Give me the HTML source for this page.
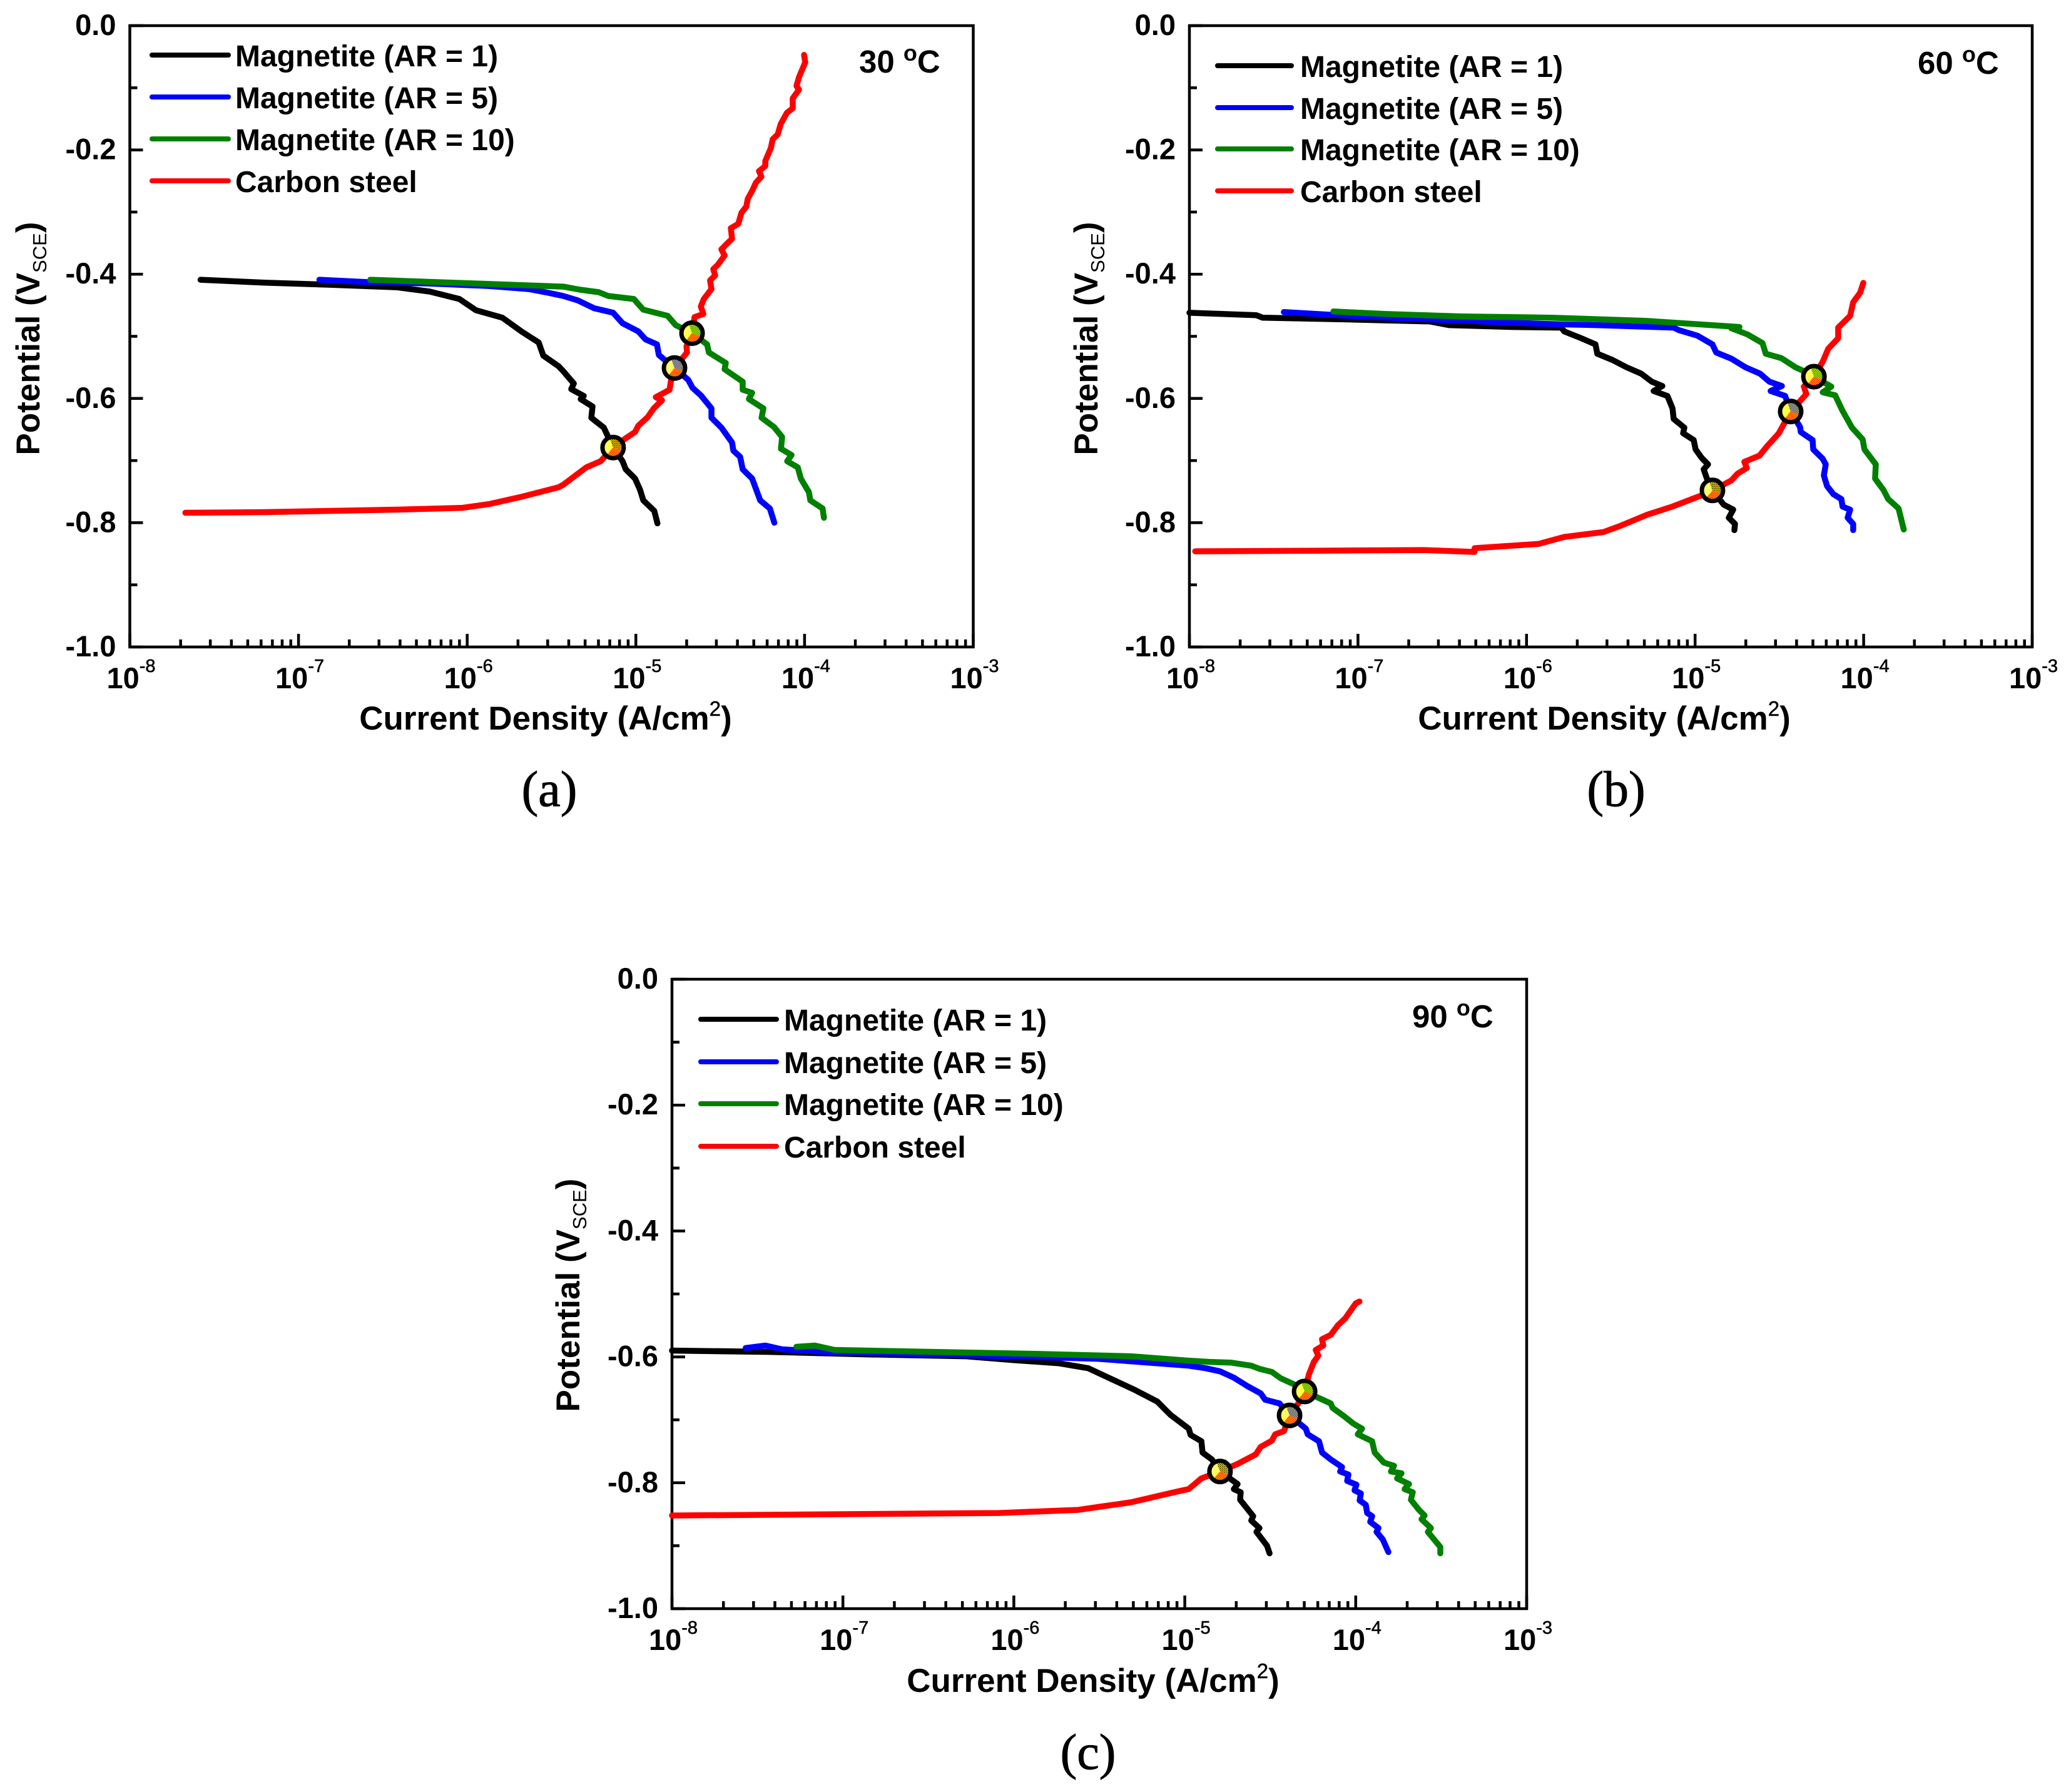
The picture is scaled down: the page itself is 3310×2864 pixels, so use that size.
<!DOCTYPE html>
<html lang="en">
<head>
<meta charset="utf-8">
<title>Polarization curves of magnetite and carbon steel</title>
<style>
html,body{margin:0;padding:0;background:#fff;}
svg{display:block;}
text{font-family:"Liberation Sans",Arial,sans-serif;font-weight:bold;fill:#000;}
.cap{font-family:"Liberation Serif",serif;font-weight:normal;stroke:#000;stroke-width:1;}
</style>
</head>
<body>
<svg id="figure" xmlns="http://www.w3.org/2000/svg" width="3310" height="2864" viewBox="0 0 3310 2864">
<defs>
<pattern id="dither-yellow" width="3" height="3" patternUnits="userSpaceOnUse"><rect width="3" height="3" fill="#ffff40"/><rect width="1.5" height="1.5" fill="#fff79a"/></pattern>
<pattern id="dither-red" width="3" height="3" patternUnits="userSpaceOnUse"><rect width="3" height="3" fill="#ffd000"/><rect width="1.5" height="1.5" fill="#f00"/><rect x="1.5" y="1.5" width="1.5" height="1.5" fill="#f00"/></pattern>
<pattern id="dither-black" width="3" height="3" patternUnits="userSpaceOnUse"><rect width="3" height="3" fill="#ff0"/><rect width="1.5" height="1.5" fill="#000"/><rect x="1.5" y="1.5" width="1.5" height="1.5" fill="#d03000"/></pattern>
<pattern id="dither-blue" width="3" height="3" patternUnits="userSpaceOnUse"><rect width="3" height="3" fill="#ff0"/><rect width="1.5" height="1.5" fill="#00f"/><rect x="1.5" y="1.5" width="1.5" height="1.5" fill="#00f"/></pattern>
<pattern id="dither-green" width="3" height="3" patternUnits="userSpaceOnUse"><rect width="3" height="3" fill="#ff0"/><rect width="1.5" height="1.5" fill="#008000"/><rect x="1.5" y="1.5" width="1.5" height="1.5" fill="#008000"/></pattern>
</defs>
</svg>
<script>
// ---- axis tick data ----
const xTickExponents = [-8, -7, -6, -5, -4, -3];
const xMinorMultipliers = [2, 3, 4, 5, 6, 7, 8, 9];
const yMajorTicks = [0, -0.2, -0.4, -0.6, -0.8, -1.0];
const yMinorTicks = [-0.1, -0.3, -0.5, -0.7, -0.9];
const seriesNames = ['Magnetite (AR = 1)', 'Magnetite (AR = 5)', 'Magnetite (AR = 10)', 'Carbon steel'];
const seriesKeys = ['ar-1', 'ar-5', 'ar-10', 'carbon-steel'];
const seriesColors = ['#000000', '#0000ff', '#008000', '#ff0000'];

// ---- panel (a) 30 C : log10(current density), potential ----
const a1LogJ = [-7.581,-7.201,-6.81,-6.418,-6.222,-6.046,-5.948,-5.792,-5.674,-5.576,-5.549,-5.459,-5.431,-5.368,-5.383,-5.309,-5.327,-5.257,-5.264,-5.19,-5.135,-5.079,-5.06,-5.005,-4.975,-4.956,-4.891,-4.872];
const a1V = [-.409,-.4136,-.417,-.421,-.428,-.44,-.458,-.470,-.493,-.510,-.531,-.548,-.556,-.576,-.585,-.596,-.601,-.613,-.631,-.647,-.679,-.701,-.714,-.729,-.747,-.764,-.781,-.801];
const a5LogJ = [-6.876,-6.575,-6.222,-5.87,-5.635,-5.518,-5.431,-5.346,-5.246,-5.135,-5.079,-4.986,-4.942,-4.875,-4.864,-4.771,-4.69,-4.664,-4.615,-4.552,-4.552,-4.493,-4.43,-4.422,-4.382,-4.367,-4.311,-4.263,-4.206,-4.179];
const a5V = [-.409,-.413,-.415,-.419,-.424,-.430,-.435,-.442,-.455,-.462,-.479,-.492,-.505,-.513,-.530,-.551,-.570,-.583,-.595,-.616,-.631,-.647,-.671,-.684,-.694,-.714,-.729,-.764,-.777,-.800];
const a10LogJ = [-6.575,-6.262,-5.948,-5.635,-5.431,-5.331,-5.22,-5.164,-5.012,-4.957,-4.812,-4.764,-4.667,-4.578,-4.567,-4.467,-4.474,-4.367,-4.367,-4.311,-4.33,-4.244,-4.255,-4.181,-4.133,-4.14,-4.077,-4.103,-4.04,-4.022,-3.974,-3.966,-3.893,-3.885];
const a10V = [-.409,-.412,-.415,-.418,-.420,-.425,-.429,-.435,-.440,-.457,-.467,-.482,-.495,-.513,-.526,-.543,-.553,-.573,-.586,-.591,-.601,-.616,-.631,-.646,-.662,-.681,-.691,-.701,-.711,-.729,-.751,-.764,-.777,-.792];
const aCsLogJ = [-7.671,-7.201,-6.81,-6.418,-6.027,-5.87,-5.674,-5.459,-5.431,-5.294,-5.209,-5.135,-5.06,-5.005,-4.986,-4.93,-4.894,-4.845,-4.882,-4.8,-4.793,-4.771,-4.697,-4.7,-4.667,-4.66,-4.652,-4.6,-4.615,-4.597,-4.552,-4.56,-4.53,-4.541,-4.515,-4.474,-4.493,-4.46,-4.43,-4.437,-4.393,-4.374,-4.345,-4.337,-4.311,-4.289,-4.256,-4.27,-4.233,-4.233,-4.2,-4.189,-4.159,-4.141,-4.104,-4.07,-4.07,-4.033,-4.048,-4.033,-3.996,-4.003];
const aCsV = [-.784,-.783,-.781,-.779,-.776,-.770,-.758,-.743,-.739,-.711,-.701,-.679,-.664,-.654,-.644,-.630,-.616,-.603,-.598,-.586,-.573,-.551,-.526,-.516,-.495,-.482,-.469,-.464,-.452,-.440,-.424,-.410,-.402,-.392,-.385,-.370,-.360,-.351,-.343,-.326,-.319,-.301,-.291,-.279,-.266,-.253,-.243,-.234,-.226,-.218,-.197,-.183,-.175,-.158,-.140,-.133,-.117,-.103,-.097,-.083,-.059,-.047];
const aCrossLogJ = [-5.135,-4.771,-4.667];
const aCrossV = [-.679,-.551,-.495];

// ---- panel (b) 60 C ----
const b1LogJ = [-8,-7.604,-7.566,-7.032,-6.575,-6.46,-6.079,-5.793,-5.777,-5.676,-5.591,-5.58,-5.491,-5.405,-5.32,-5.257,-5.194,-5.246,-5.164,-5.134,-5.127,-5.064,-5.071,-5.008,-4.997,-4.96,-4.923,-4.949,-4.93,-4.897,-4.83,-4.774,-4.8,-4.763,-4.767];
const b1V = [-.462,-.466,-.470,-.473,-.476,-.482,-.485,-.486,-.492,-.503,-.513,-.528,-.538,-.550,-.560,-.573,-.580,-.588,-.596,-.616,-.633,-.647,-.656,-.667,-.682,-.696,-.706,-.714,-.729,-.748,-.771,-.779,-.792,-.802,-.812];
const b5LogJ = [-7.44,-6.994,-6.46,-5.908,-5.584,-5.127,-5.097,-4.986,-4.897,-4.875,-4.785,-4.7,-4.615,-4.559,-4.485,-4.552,-4.466,-4.433,-4.377,-4.373,-4.303,-4.299,-4.243,-4.225,-4.236,-4.217,-4.18,-4.132,-4.125,-4.08,-4.095,-4.062,-4.062];
const b5V = [-.461,-.468,-.474,-.480,-.482,-.486,-.490,-.499,-.513,-.526,-.536,-.550,-.560,-.573,-.580,-.588,-.596,-.621,-.646,-.654,-.667,-.682,-.697,-.706,-.724,-.741,-.754,-.762,-.774,-.779,-.792,-.802,-.812];
const b10LogJ = [-7.146,-6.841,-6.384,-5.851,-5.294,-4.737,-4.785,-4.689,-4.6,-4.581,-4.489,-4.403,-4.355,-4.295,-4.192,-4.243,-4.169,-4.125,-4.069,-4.006,-3.995,-3.928,-3.932,-3.883,-3.854,-3.793,-3.774,-3.762];
const b10V = [-.460,-.464,-.468,-.470,-.475,-.485,-.487,-.497,-.511,-.528,-.535,-.550,-.556,-.565,-.581,-.590,-.595,-.620,-.647,-.666,-.682,-.706,-.729,-.747,-.762,-.777,-.798,-.811];
const bCsLogJ = [-7.966,-7.223,-6.613,-6.308,-6.308,-5.927,-5.777,-5.543,-5.443,-5.283,-5.134,-4.971,-4.897,-4.785,-4.748,-4.693,-4.708,-4.618,-4.57,-4.503,-4.433,-4.34,-4.355,-4.295,-4.243,-4.21,-4.151,-4.151,-4.08,-4.062,-4.021,-4.002];
const bCsV = [-.846,-.845,-.844,-.847,-.841,-.834,-.823,-.815,-.805,-.787,-.774,-.757,-.748,-.732,-.721,-.712,-.702,-.692,-.676,-.656,-.621,-.593,-.581,-.565,-.541,-.520,-.503,-.486,-.467,-.445,-.430,-.414];
const bCrossLogJ = [-4.897,-4.433,-4.295];
const bCrossV = [-.748,-.621,-.565];

// ---- panel (c) 90 C ----
const c1LogJ = [-8,-7.434,-6.856,-6.278,-6.008,-5.739,-5.565,-5.431,-5.296,-5.161,-5.084,-4.977,-4.966,-4.903,-4.896,-4.841,-4.794,-4.691,-4.713,-4.673,-4.676,-4.629,-4.6,-4.611,-4.563,-4.581,-4.519,-4.504];
const c1V = [-.590,-.592,-.596,-.599,-.605,-.610,-.618,-.635,-.652,-.671,-.692,-.714,-.724,-.734,-.752,-.763,-.782,-.802,-.810,-.815,-.827,-.843,-.853,-.860,-.872,-.878,-.900,-.912];
const c5LogJ = [-7.569,-7.453,-7.357,-7.049,-6.471,-5.893,-5.508,-5.315,-4.977,-4.878,-4.794,-4.713,-4.636,-4.556,-4.53,-4.446,-4.387,-4.292,-4.281,-4.215,-4.197,-4.146,-4.08,-4.091,-4.043,-4.05,-3.996,-4.007,-3.97,-3.977,-3.941,-3.933,-3.904,-3.915,-3.867,-3.878,-3.842,-3.809];
const c5V = [-.586,-.582,-.588,-.593,-.596,-.600,-.603,-.607,-.614,-.618,-.623,-.633,-.646,-.658,-.668,-.674,-.693,-.714,-.723,-.734,-.752,-.763,-.775,-.782,-.787,-.797,-.803,-.812,-.817,-.828,-.835,-.848,-.853,-.862,-.872,-.878,-.890,-.910];
const c10LogJ = [-7.272,-7.164,-7.049,-6.471,-5.893,-5.315,-4.977,-4.856,-4.731,-4.611,-4.563,-4.49,-4.439,-4.365,-4.299,-4.146,-4.135,-4.069,-4.014,-3.963,-3.988,-3.904,-3.889,-3.835,-3.776,-3.794,-3.732,-3.758,-3.688,-3.714,-3.666,-3.677,-3.63,-3.597,-3.615,-3.56,-3.578,-3.505,-3.505];
const c10V = [-.584,-.582,-.589,-.592,-.595,-.599,-.606,-.608,-.609,-.614,-.619,-.624,-.634,-.643,-.655,-.674,-.681,-.694,-.706,-.714,-.723,-.734,-.752,-.768,-.773,-.782,-.785,-.793,-.802,-.810,-.815,-.827,-.843,-.852,-.858,-.872,-.878,-.902,-.912];
const cCsLogJ = [-8,-7.049,-6.086,-5.623,-5.315,-5.045,-4.977,-4.903,-4.794,-4.691,-4.585,-4.556,-4.49,-4.471,-4.42,-4.387,-4.336,-4.299,-4.274,-4.245,-4.219,-4.234,-4.19,-4.197,-4.146,-4.105,-4.062,-4.0,-3.978];
const cCsV = [-.852,-.850,-.848,-.843,-.831,-.814,-.810,-.793,-.782,-.770,-.755,-.743,-.733,-.723,-.718,-.693,-.674,-.655,-.628,-.608,-.598,-.589,-.582,-.572,-.565,-.550,-.539,-.515,-.512];
const cCrossLogJ = [-4.794,-4.387,-4.299];
const cCrossV = [-.782,-.693,-.655];

const panels = [
  {id:'a', temp:'30', caption:'(a)', left:207.5, right:1555.5, top:41, bottom:1034,
   logJ:[a1LogJ,a5LogJ,a10LogJ,aCsLogJ], v:[a1V,a5V,a10V,aCsV], crossJ:aCrossLogJ, crossV:aCrossV,
   legendX1:243, legendX2:365, legendTextX:376, legendY:[88,155,222,289], tempX:1373, tempY:116,
   xTitleX:872, xTitleY:1166, yTitleX:63, yTitleY:541, capX:878, capY:1288},
  {id:'b', temp:'60', caption:'(b)', left:1901, right:3248, top:41, bottom:1034,
   logJ:[b1LogJ,b5LogJ,b10LogJ,bCsLogJ], v:[b1V,b5V,b10V,bCsV], crossJ:bCrossLogJ, crossV:bCrossV,
   legendX1:1946, legendX2:2064, legendTextX:2078, legendY:[105,172,238,305], tempX:3065, tempY:118,
   xTitleX:2564, xTitleY:1166, yTitleX:1754, yTitleY:541, capX:2583, capY:1288},
  {id:'c', temp:'90', caption:'(c)', left:1074, right:2440, top:1565, bottom:2571,
   logJ:[c1LogJ,c5LogJ,c10LogJ,cCsLogJ], v:[c1V,c5V,c10V,cCsV], crossJ:cCrossLogJ, crossV:cCrossV,
   legendX1:1120, legendX2:1241, legendTextX:1253, legendY:[1629,1697,1764,1832], tempX:2257, tempY:1642,
   xTitleX:1747, xTitleY:2704, yTitleX:926, yTitleY:2070, capX:1739, capY:2827}
];

const NS = 'http://www.w3.org/2000/svg';
const root = document.getElementById('figure');
function make(tag, parent, attrs, txt) {
  const e = document.createElementNS(NS, tag);
  for (const k in attrs) e.setAttribute(k, attrs[k]);
  if (txt !== undefined) e.textContent = txt;
  parent.appendChild(e);
  return e;
}
function wedge(cx, cy, r, a0, a1) {
  const p = a => [cx + r * Math.cos(a * Math.PI / 180), cy + r * Math.sin(a * Math.PI / 180)];
  const s = p(a0), t = p(a1);
  return 'M' + cx + ' ' + cy + 'L' + s[0] + ' ' + s[1] + 'A' + r + ' ' + r + ' 0 ' + (a1 - a0 > 180 ? 1 : 0) + ' 1 ' + t[0] + ' ' + t[1] + 'Z';
}

panels.forEach(function (P) {
  const xScale = d => P.left + (d + 8) / 5 * (P.right - P.left);
  const yScale = v => P.top - v * (P.bottom - P.top);
  const g = make('g', root, {});
  
  

  // plot frame
  const frame = make('rect', g, {x:P.left, y:P.top, width:P.right - P.left, height:P.bottom - P.top, fill:'none', stroke:'#000', 'stroke-width':4.5});
  
  

  // x ticks and labels
  xTickExponents.forEach(function (ex) {
    const tx = xScale(ex);
    const tick = make('line', g, {x1:tx, x2:tx, y1:P.bottom, y2:P.bottom - 21, stroke:'#000', 'stroke-width':4.5});
    
    
    const label = make('text', g, {x:tx + 2, y:P.bottom + 66, 'text-anchor':'middle', 'font-size':47});
    
    
    make('tspan', label, {}, '10');
    make('tspan', label, {dy:-26, 'font-size':29, style:'font-weight:normal;stroke:#000;stroke-width:.6'}, String(ex));
    if (ex < -3) xMinorMultipliers.forEach(function (m) {
      const mx = xScale(ex + Math.log10(m));
      const minor = make('line', g, {x1:mx, x2:mx, y1:P.bottom, y2:P.bottom - 12, stroke:'#000', 'stroke-width':4.5});
      
      
    });
  });

  // y ticks and labels
  yMajorTicks.forEach(function (v) {
    const ty = yScale(v);
    const tick = make('line', g, {x1:P.left, x2:P.left + 21, y1:ty, y2:ty, stroke:'#000', 'stroke-width':4.5});
    
    
    const label = make('text', g, {x:P.left - 22, y:ty + 15, 'text-anchor':'end', 'font-size':47}, v.toFixed(1));
    
    
  });
  yMinorTicks.forEach(function (v) {
    const ty = yScale(v);
    const minor = make('line', g, {x1:P.left, x2:P.left + 12, y1:ty, y2:ty, stroke:'#000', 'stroke-width':4.5});
    
    
  });

  // axis titles
  const xt = make('text', g, {x:P.xTitleX, y:P.xTitleY, 'text-anchor':'middle', 'font-size':53});
  
  
  make('tspan', xt, {}, 'Current Density (A/cm');
  make('tspan', xt, {dy:-22, 'font-size':33, style:'stroke:#000;stroke-width:.5;font-weight:normal'}, '2');
  make('tspan', xt, {dy:22}, ')');

  const yt = make('text', g, {transform:'translate(' + P.yTitleX + ' ' + P.yTitleY + ') rotate(-90)', 'text-anchor':'middle', 'font-size':53});
  
  
  make('tspan', yt, {}, 'Potential (V');
  make('tspan', yt, {dy:11, 'font-size':31, style:'font-weight:normal'}, 'SCE');
  make('tspan', yt, {dy:-11}, ')');

  // series curves
  seriesKeys.forEach(function (key, i) {
    const pts = P.logJ[i].map((d, k) => xScale(d).toFixed(1) + ',' + yScale(P.v[i][k]).toFixed(1)).join(' ');
    const curve = make('polyline', g, {points:pts, fill:'none', stroke:seriesColors[i], 'stroke-width':9.5, 'stroke-linejoin':'round', 'stroke-linecap':'round'});
    
    
  });

  // corrosion crossing markers
  P.crossJ.forEach(function (d, k) {
    const cx = xScale(d), cy = yScale(P.crossV[k]);
    const color = ['black', 'blue', 'green'][k];
    const m = make('g', g, {});
    
    
    make('circle', m, {cx:cx, cy:cy, r:15, fill:'url(#dither-yellow)'});
    make('path', m, {d:wedge(cx, cy, 15, 20, 130), fill:'url(#dither-red)'});
    make('path', m, {d:wedge(cx, cy, 15, -110, 20), fill:'url(#dither-' + color + ')'});
    make('circle', m, {cx:cx, cy:cy, r:17, fill:'none', stroke:'#000', 'stroke-width':7});
  });

  // legend
  seriesNames.forEach(function (name, i) {
    const ly = P.legendY[i];
    const line = make('line', g, {x1:P.legendX1, x2:P.legendX2, y1:ly, y2:ly, stroke:seriesColors[i], 'stroke-width':8, 'stroke-linecap':'round'});
    
    
    const lt = make('text', g, {x:P.legendTextX, y:ly + 18, 'font-size':48}, name);
    
    
  });

  // temperature label
  const temp = make('text', g, {x:P.tempX, y:P.tempY, 'font-size':51});
  
  
  make('tspan', temp, {}, P.temp + ' ');
  make('tspan', temp, {dy:-19, 'font-size':36}, 'o');
  make('tspan', temp, {dy:19}, 'C');

  // panel caption
  const cap = make('text', g, {x:P.capX, y:P.capY, 'text-anchor':'middle', 'font-size':80, 'class':'cap'}, P.caption);
  
  
});
</script>
</body>
</html>
